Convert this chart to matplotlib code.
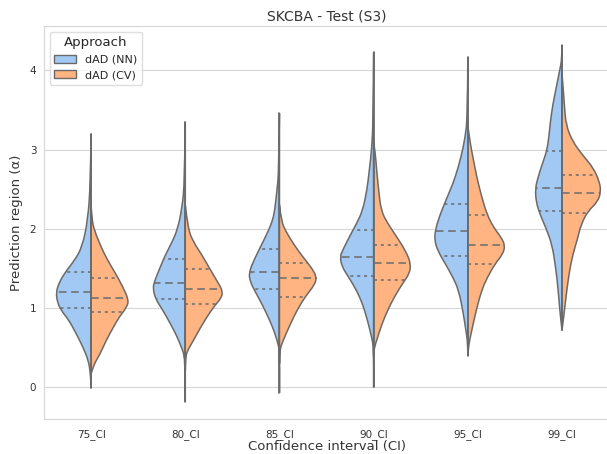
import matplotlib
matplotlib.use("Agg")
import matplotlib.pyplot as plt
import seaborn as sns
from matplotlib.patches import Patch, PathPatch
from matplotlib.path import Path

sns.set_style("whitegrid")
plt.rcParams['font.family'] = ['DejaVu Sans']

categories = ["75_CI", "80_CI", "85_CI", "90_CI", "95_CI", "99_CI"]
approaches = ["dAD (NN)", "dAD (CV)"]
colors = ["#a1c9f4", "#ffb482"]
gray = "#6a6a6a"

# density outline of each half: y values and half widths
nn_y = [
    [3.20, 2.57, 2.11, 1.77, 1.60, 1.44, 1.31, 1.20, 1.08, 0.97, 0.85, 0.68, 0.51, 0.34, 0.17, -0.01],
    [3.35, 2.59, 2.26, 2.00, 1.83, 1.67, 1.50, 1.33, 1.25, 1.12, 0.99, 0.82, 0.66, 0.49, 0.40, 0.24, -0.18],
    [3.46, 2.72, 2.47, 2.21, 2.09, 1.96, 1.79, 1.62, 1.45, 1.33, 1.20, 1.03, 0.87, 0.70, 0.53, 0.45, -0.07],
    [4.23, 3.40, 3.00, 2.74, 2.49, 2.23, 2.07, 1.90, 1.73, 1.65, 1.52, 1.39, 1.22, 1.05, 0.84, 0.63, 0.50, 0.00],
    [4.17, 3.41, 3.16, 2.91, 2.65, 2.49, 2.32, 2.15, 1.98, 1.86, 1.73, 1.56, 1.39, 1.23, 0.97, 0.72, 0.59, 0.40],
    [4.32, 4.15, 3.98, 3.77, 3.56, 3.35, 3.14, 2.98, 2.81, 2.64, 2.51, 2.34, 2.17, 2.01, 1.80, 1.54, 1.29, 1.04, 0.83, 0.72],
]
nn_w = [
    [0, 0.007, 0.035, 0.095, 0.177, 0.283, 0.343, 0.371, 0.360, 0.318, 0.237, 0.159, 0.088, 0.028, 0.007, 0],
    [0, 0.007, 0.035, 0.081, 0.141, 0.212, 0.272, 0.329, 0.343, 0.318, 0.247, 0.166, 0.095, 0.035, 0.011, 0.004, 0],
    [0, 0.007, 0.028, 0.053, 0.078, 0.124, 0.194, 0.265, 0.325, 0.311, 0.254, 0.177, 0.113, 0.053, 0.011, 0, 0],
    [0, 0.004, 0.021, 0.046, 0.071, 0.117, 0.180, 0.258, 0.329, 0.357, 0.336, 0.265, 0.180, 0.117, 0.064, 0.021, 0, 0],
    [0, 0.004, 0.028, 0.071, 0.134, 0.187, 0.247, 0.304, 0.346, 0.353, 0.322, 0.240, 0.159, 0.099, 0.053, 0.021, 0.004, 0],
    [0, 0, 0.028, 0.064, 0.099, 0.124, 0.141, 0.163, 0.212, 0.258, 0.283, 0.276, 0.230, 0.170, 0.106, 0.071, 0.046, 0.028, 0.011, 0],
]
cv_y = [
    [2.30, 2.11, 1.98, 1.77, 1.60, 1.44, 1.27, 1.10, 1.01, 0.89, 0.76, 0.59, 0.42, 0.30, 0.17],
    [2.30, 2.00, 1.83, 1.67, 1.50, 1.33, 1.21, 1.12, 1.04, 0.92, 0.75, 0.58, 0.45, 0.37, 0.20],
    [2.30, 2.10, 1.96, 1.79, 1.62, 1.50, 1.39, 1.29, 1.16, 0.99, 0.82, 0.66, 0.53, 0.45, 0.30],
    [3.10, 2.95, 2.74, 2.49, 2.23, 2.07, 1.90, 1.73, 1.56, 1.43, 1.31, 1.14, 0.97, 0.80, 0.63, 0.50, 0.40],
    [3.30, 3.08, 2.91, 2.65, 2.40, 2.19, 2.02, 1.90, 1.79, 1.68, 1.56, 1.39, 1.23, 0.97, 0.72, 0.55, 0.40],
    [3.95, 3.86, 3.56, 3.31, 3.10, 2.93, 2.77, 2.60, 2.47, 2.34, 2.22, 2.05, 1.88, 1.67, 1.46, 1.21, 0.96, 0.79, 0.72],
]
cv_w = [
    [0, 0.010, 0.035, 0.106, 0.177, 0.258, 0.336, 0.400, 0.378, 0.300, 0.237, 0.159, 0.095, 0.035, 0],
    [0, 0.028, 0.088, 0.177, 0.258, 0.343, 0.400, 0.378, 0.318, 0.247, 0.159, 0.081, 0.018, 0.004, 0],
    [0, 0.018, 0.071, 0.159, 0.265, 0.346, 0.396, 0.371, 0.283, 0.194, 0.124, 0.064, 0.018, 0.004, 0],
    [0, 0.018, 0.032, 0.053, 0.078, 0.148, 0.244, 0.336, 0.396, 0.378, 0.307, 0.219, 0.148, 0.088, 0.042, 0.007, 0],
    [0, 0.025, 0.053, 0.095, 0.148, 0.201, 0.272, 0.350, 0.396, 0.371, 0.290, 0.208, 0.148, 0.088, 0.042, 0.011, 0],
    [0, 0.007, 0.025, 0.042, 0.113, 0.219, 0.332, 0.396, 0.413, 0.378, 0.272, 0.201, 0.166, 0.113, 0.078, 0.049, 0.025, 0.007, 0],
]

# quartiles (q1, median, q3)
nn_q = [[1.00, 1.20, 1.46], [1.11, 1.32, 1.62], [1.24, 1.45, 1.75],
        [1.40, 1.65, 1.98], [1.66, 1.97, 2.31], [2.22, 2.52, 2.98]]
cv_q = [[0.95, 1.13, 1.38], [1.05, 1.24, 1.49], [1.14, 1.38, 1.57],
        [1.35, 1.57, 1.80], [1.56, 1.79, 2.18], [2.20, 2.45, 2.68]]


def width_at(ys, ws, y):
    # outline width at a given height, between the two nearest outline points
    pts = sorted(zip(ys, ws))
    for (y0, w0), (y1, w1) in zip(pts[:-1], pts[1:]):
        if y0 <= y <= y1:
            t = (y - y0) / (y1 - y0) if y1 > y0 else 0
            return w0 + t * (w1 - w0)
    return 0


def half_violin(ax, pos, ys, ws, side, color):
    # smooth outline: quadratic curves through the midpoints of the outline points
    pts = [(pos + side * w, y) for y, w in zip(ys, ws)]
    verts = [pts[0]]
    codes = [Path.MOVETO]
    for k in range(1, len(pts) - 1):
        nxt = pts[k + 1]
        mid = ((pts[k][0] + nxt[0]) / 2, (pts[k][1] + nxt[1]) / 2)
        verts += [pts[k], mid]
        codes += [Path.CURVE3, Path.CURVE3]
    verts += [pts[-1], (pos, ys[-1]), (pos, ys[0]), (pos, ys[0])]
    codes += [Path.LINETO, Path.LINETO, Path.LINETO, Path.CLOSEPOLY]
    ax.add_patch(PathPatch(Path(verts, codes), facecolor=color, edgecolor=gray,
                           linewidth=1.1, zorder=2))


fig = plt.figure(figsize=(6.07, 4.54), dpi=100)
ax = fig.add_axes([0.0725, 0.0771, 0.931, 0.8656])

for i in range(len(categories)):
    for ys, ws, qs, side, col in [(nn_y[i], nn_w[i], nn_q[i], -1, colors[0]),
                                  (cv_y[i], cv_w[i], cv_q[i], 1, colors[1])]:
        half_violin(ax, i, ys, ws, side, col)
        for k, q in enumerate(qs):
            w = width_at(ys, ws, q)
            ls = (0, (5, 3)) if k == 1 else (0, (2, 2.5))
            ax.plot([i, i + side * w], [q, q], color=gray, lw=1.1, ls=ls, zorder=3)
    lo = min(nn_y[i] + cv_y[i])
    hi = max(nn_y[i] + cv_y[i])
    ax.plot([i, i], [lo, hi], color=gray, lw=1.2, zorder=3)

ax.set_xlim(-0.5, 5.5)
ax.set_ylim(-0.40, 4.56)
ax.set_xticks(range(len(categories)))
ax.set_xticklabels(categories)
ax.set_yticks([0, 1, 2, 3, 4])
ax.grid(axis="x", visible=False)
ax.grid(axis="y", color="#d6d6d6")
for s in ax.spines.values():
    s.set_color("#d6d6d6")
ax.tick_params(labelsize=7.5, colors="#333333")
ax.tick_params(axis="x", pad=3.5)
ax.tick_params(axis="y", pad=2)
ax.set_xlabel("Confidence interval (CI)", fontsize=9.5, color="#333333", labelpad=0)
ax.set_ylabel("Prediction region (\u03b1)", fontsize=9.5, color="#333333", labelpad=5)
ax.set_title("SKCBA - Test (S3)", fontsize=10, color="#333333", pad=4)

handles = [Patch(facecolor=c, edgecolor=gray, label=a) for c, a in zip(colors, approaches)]
leg = ax.legend(handles=handles, title="Approach", loc="upper left", fontsize=8,
                title_fontsize=9.5, frameon=True)
leg.get_frame().set_edgecolor("#d6d6d6")

fig.savefig("out.png", dpi=100)
